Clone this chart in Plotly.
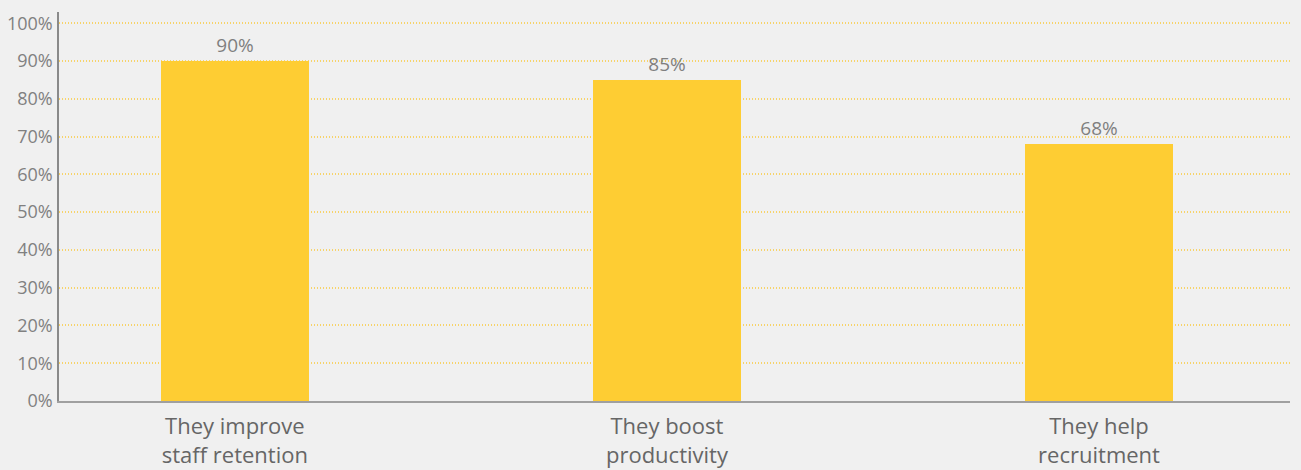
import plotly.graph_objects as go

categories = ["They improve<br>staff retention", "They boost<br>productivity", "They help<br>recruitment"]
values = [90, 85, 68]
tick_vals = [0, 10, 20, 30, 40, 50, 60, 70, 80, 90, 100]
tick_text = [f"{v}%" for v in tick_vals]

BAR_COLOR = "#fecd33"
BG = "#f0f0f0"
FONT = "Open Sans"

fig = go.Figure(
    go.Bar(
        x=[0, 1, 2],
        y=values,
        width=0.343,
        marker=dict(color=BAR_COLOR, line=dict(width=0)),
        text=[f"{v}%" for v in values],
        textposition="outside",
        textfont=dict(family=FONT, size=19, color="#7f7f7f"),
        cliponaxis=False,
    )
)

fig.update_layout(
    width=1301,
    height=470,
    margin=dict(l=59, r=11, t=12, b=69),
    paper_bgcolor=BG,
    plot_bgcolor=BG,
    showlegend=False,
    bargap=0,
    font=dict(family=FONT),
)

fig.update_xaxes(
    range=[-0.407, 2.442],
    tickmode="array",
    tickvals=[0, 1, 2],
    ticktext=categories,
    tickfont=dict(family=FONT, size=22, color="#666666"),
    showgrid=False,
    zeroline=False,
    showline=True,
    linecolor="#a0a0a0",
    linewidth=2,
    ticks="",
    ticklabelstandoff=5,
    automargin=False,
)

fig.update_yaxes(
    range=[0, 103],
    tickmode="array",
    tickvals=tick_vals,
    ticktext=tick_text,
    tickfont=dict(family=FONT, size=18, color="#808080"),
    showgrid=True,
    gridcolor="#f7d36a",
    gridwidth=1.5,
    griddash="1px,2px",
    zeroline=False,
    showline=True,
    linecolor="#8a8a8a",
    linewidth=1.5,
    ticks="",
    ticklabelstandoff=1,
    automargin=False,
)

fig.write_html("out.html")
